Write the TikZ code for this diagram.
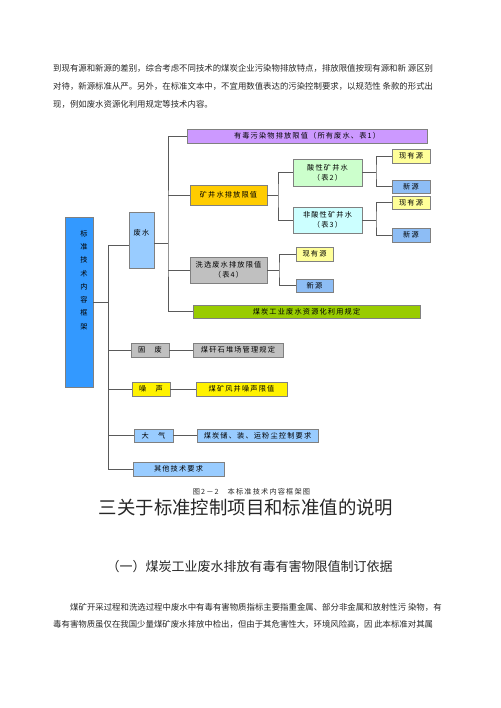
\documentclass[tikz,border=0pt]{standalone}
\usepackage{fontspec}
\setmainfont{Noto Sans CJK SC}
\newfontfamily\boxfont[LetterSpace=16]{Noto Sans CJK SC}

\definecolor{frameblue}{HTML}{3399FF}
\definecolor{lightblue}{HTML}{99CCFF}
\definecolor{newblue}{HTML}{8DBDF5}
\definecolor{violet}{HTML}{CC99FF}
\definecolor{amber}{HTML}{FFCC00}
\definecolor{paleyellow}{HTML}{FFFF99}
\definecolor{palegreen}{HTML}{CCFFCC}
\definecolor{palecyan}{HTML}{CCFFFF}
\definecolor{silver}{HTML}{C0C0C0}
\definecolor{lime}{HTML}{99CC00}
\definecolor{cellline}{HTML}{808080}
\definecolor{linkgray}{HTML}{5A5A5A}

\tikzset{
	cell/.style={draw=cellline, line width=0.7pt, inner sep=0pt, align=center,
		font=\boxfont\fontsize{7.2}{10}\selectfont, text=black},
	link/.style={draw=linkgray, line width=0.9pt},
	para/.style={anchor=west, inner sep=0pt, font=\fontsize{8.4}{10}\selectfont, text=black!85},
}

\begin{document}
\begin{tikzpicture}[x=1pt,y=-1pt]
	\useasboundingbox (0,0) rectangle (500,708);
	% text above the figure
	\node[para] (lineA) at (53,68.5) {到现有源和新源的差别，综合考虑不同技术的煤炭企业污染物排放特点，排放限值按现有源和新 源区别};
	\node[para] (lineB) at (53,86.5) {对待，新源标准从严。另外，在标准文本中，不宜用数值表达的污染控制要求，以规范性 条款的形式出};
	\node[para] (lineC) at (53,104) {现，例如废水资源化利用规定等技术内容。};

	% main frame
	\node[cell, fill=frameblue, minimum width=28pt, minimum height=170pt] (frame) at (79,302) {};
	\node[inner sep=0pt, align=center, font=\boxfont\fontsize{7.2}{13.3}\selectfont, text=black] (frametxt) at (84,280) {标\\准\\技\\术\\内\\容\\框\\架};

	% first level
	\node[cell, fill=lightblue, minimum width=25pt, minimum height=56pt] (waste) at (141.5,240) {};
	\node[inner sep=0pt, font=\boxfont\fontsize{7.2}{10}\selectfont, text=black] (wastetxt) at (141.5,233) {废水};
	\node[cell, fill=silver, minimum width=38pt, minimum height=14pt] (solid) at (150,350) {固　废};
	\node[cell, fill=yellow, minimum width=38pt, minimum height=14pt] (noise) at (151,389) {噪　声};
	\node[cell, fill=lightblue, minimum width=39pt, minimum height=13pt] (air) at (153.5,435.5) {大　气};
	\node[cell, fill=lightblue, minimum width=91pt, minimum height=14pt] (other) at (178.5,469) {其他技术要求};

	% waste water branch
	\node[cell, fill=violet, minimum width=240pt, minimum height=14pt] (toxic) at (307,136) {有毒污染物排放限值（所有废水、表1）};
	\node[cell, fill=amber, minimum width=77pt, minimum height=20pt] (mine) at (228.5,195) {矿井水排放限值};
	\node[cell, fill=silver, minimum width=77pt, minimum height=26pt] (wash) at (228.5,270) {洗选废水排放限值\\（表4）};
	\node[cell, fill=lime, minimum width=227pt, minimum height=13pt] (reuse) at (306.5,311.5) {煤炭工业废水资源化利用规定};

	\node[cell, fill=palegreen, minimum width=69pt, minimum height=27pt] (acid) at (327.5,172.5) {酸性矿井水\\（表2）};
	\node[cell, fill=palecyan, minimum width=69pt, minimum height=26pt] (nonacid) at (327.5,220) {非酸性矿井水\\（表3）};

	\node[cell, fill=paleyellow, minimum width=38pt, minimum height=14pt] (acidold) at (411,156) {现有源};
	\node[cell, fill=newblue, minimum width=38pt, minimum height=13pt] (acidnew) at (411,186.5) {新源};
	\node[cell, fill=paleyellow, minimum width=38pt, minimum height=13pt] (nonold) at (411,202.5) {现有源};
	\node[cell, fill=newblue, minimum width=38pt, minimum height=14pt] (nonnew) at (411,235) {新源};
	\node[cell, fill=paleyellow, minimum width=37pt, minimum height=14pt] (washold) at (314.5,254) {现有源};
	\node[cell, fill=newblue, minimum width=37pt, minimum height=13pt] (washnew) at (314.5,285.5) {新源};

	% leaves of solid, noise, air
	\node[cell, fill=silver, minimum width=90pt, minimum height=14pt] (gangue) at (238,350) {煤矸石堆场管理规定};
	\node[cell, fill=yellow, minimum width=91pt, minimum height=14pt] (noiselim) at (241.5,389) {煤矿风井噪声限值};
	\node[cell, fill=lightblue, minimum width=121pt, minimum height=13pt] (dust) at (257.5,435.5) {煤炭储、装、运粉尘控制要求};

	% forks
	\coordinate (trunk) at (108,245);
	\coordinate (trunkW) at (168,243);
	\coordinate (forkM) at (278,195);
	\coordinate (forkA) at (376,172.5);
	\coordinate (forkN) at (376,220);
	\coordinate (forkX) at (279,270);

	% connectors
	\draw[link] (frame.east) -- (frame.east -| trunk);
	\draw[link] (trunk -| waste.west) -- (trunk) |- (other.west);
	\draw[link] (solid.west) -- (solid.west -| trunk);
	\draw[link] (noise.west) -- (noise.west -| trunk);
	\draw[link] (air.west) -- (air.west -| trunk);

	\draw[link] (trunkW -| waste.east) -- (trunkW);
	\draw[link] (toxic.west) -| (trunkW) |- (reuse.west);
	\draw[link] (mine.west) -- (mine.west -| trunkW);
	\draw[link] (wash.west) -- (wash.west -| trunkW);

	\draw[link] (mine.east) -- (forkM);
	\draw[link] (acid.west) -| (forkM) |- (nonacid.west);
	\draw[link] (acid.east) -- (forkA);
	\draw[link] (acidold.west) -| (forkA) |- (acidnew.west);
	\draw[link] (nonacid.east) -- (forkN);
	\draw[link] (nonold.west) -| (forkN) |- (nonnew.west);
	\draw[link] (wash.east) -- (forkX);
	\draw[link] (washold.west) -| (forkX) |- (washnew.west);

	\draw[link] (solid) -- (gangue);
	\draw[link] (noise) -- (noiselim);
	\draw[link] (air) -- (dust);

	% caption and text below
	\node[inner sep=0pt, font=\boxfont\fontsize{7.2}{9}\selectfont, text=black!85] (caption) at (251.5,492) {图2－2\hspace{9pt}本标准技术内容框架图};
	\node[inner sep=0pt, font=\fontsize{18.4}{20}\selectfont, text=black!85] (heading) at (246,508) {三关于标准控制项目和标准值的说明};
	\node[inner sep=0pt, font=\fontsize{13}{15}\selectfont, text=black!85] (subhead) at (249.5,567) {（一）煤炭工业废水排放有毒有害物限值制订依据};
	\node[para] (lineD) at (70,607) {煤矿开采过程和洗选过程中废水中有毒有害物质指标主要指重金属、部分非金属和放射性污 染物，有};
	\node[para] (lineE) at (53,624) {毒有害物质虽仅在我国少量煤矿废水排放中检出，但由于其危害性大，环境风险高，因 此本标准对其属};
\end{tikzpicture}
\end{document}
